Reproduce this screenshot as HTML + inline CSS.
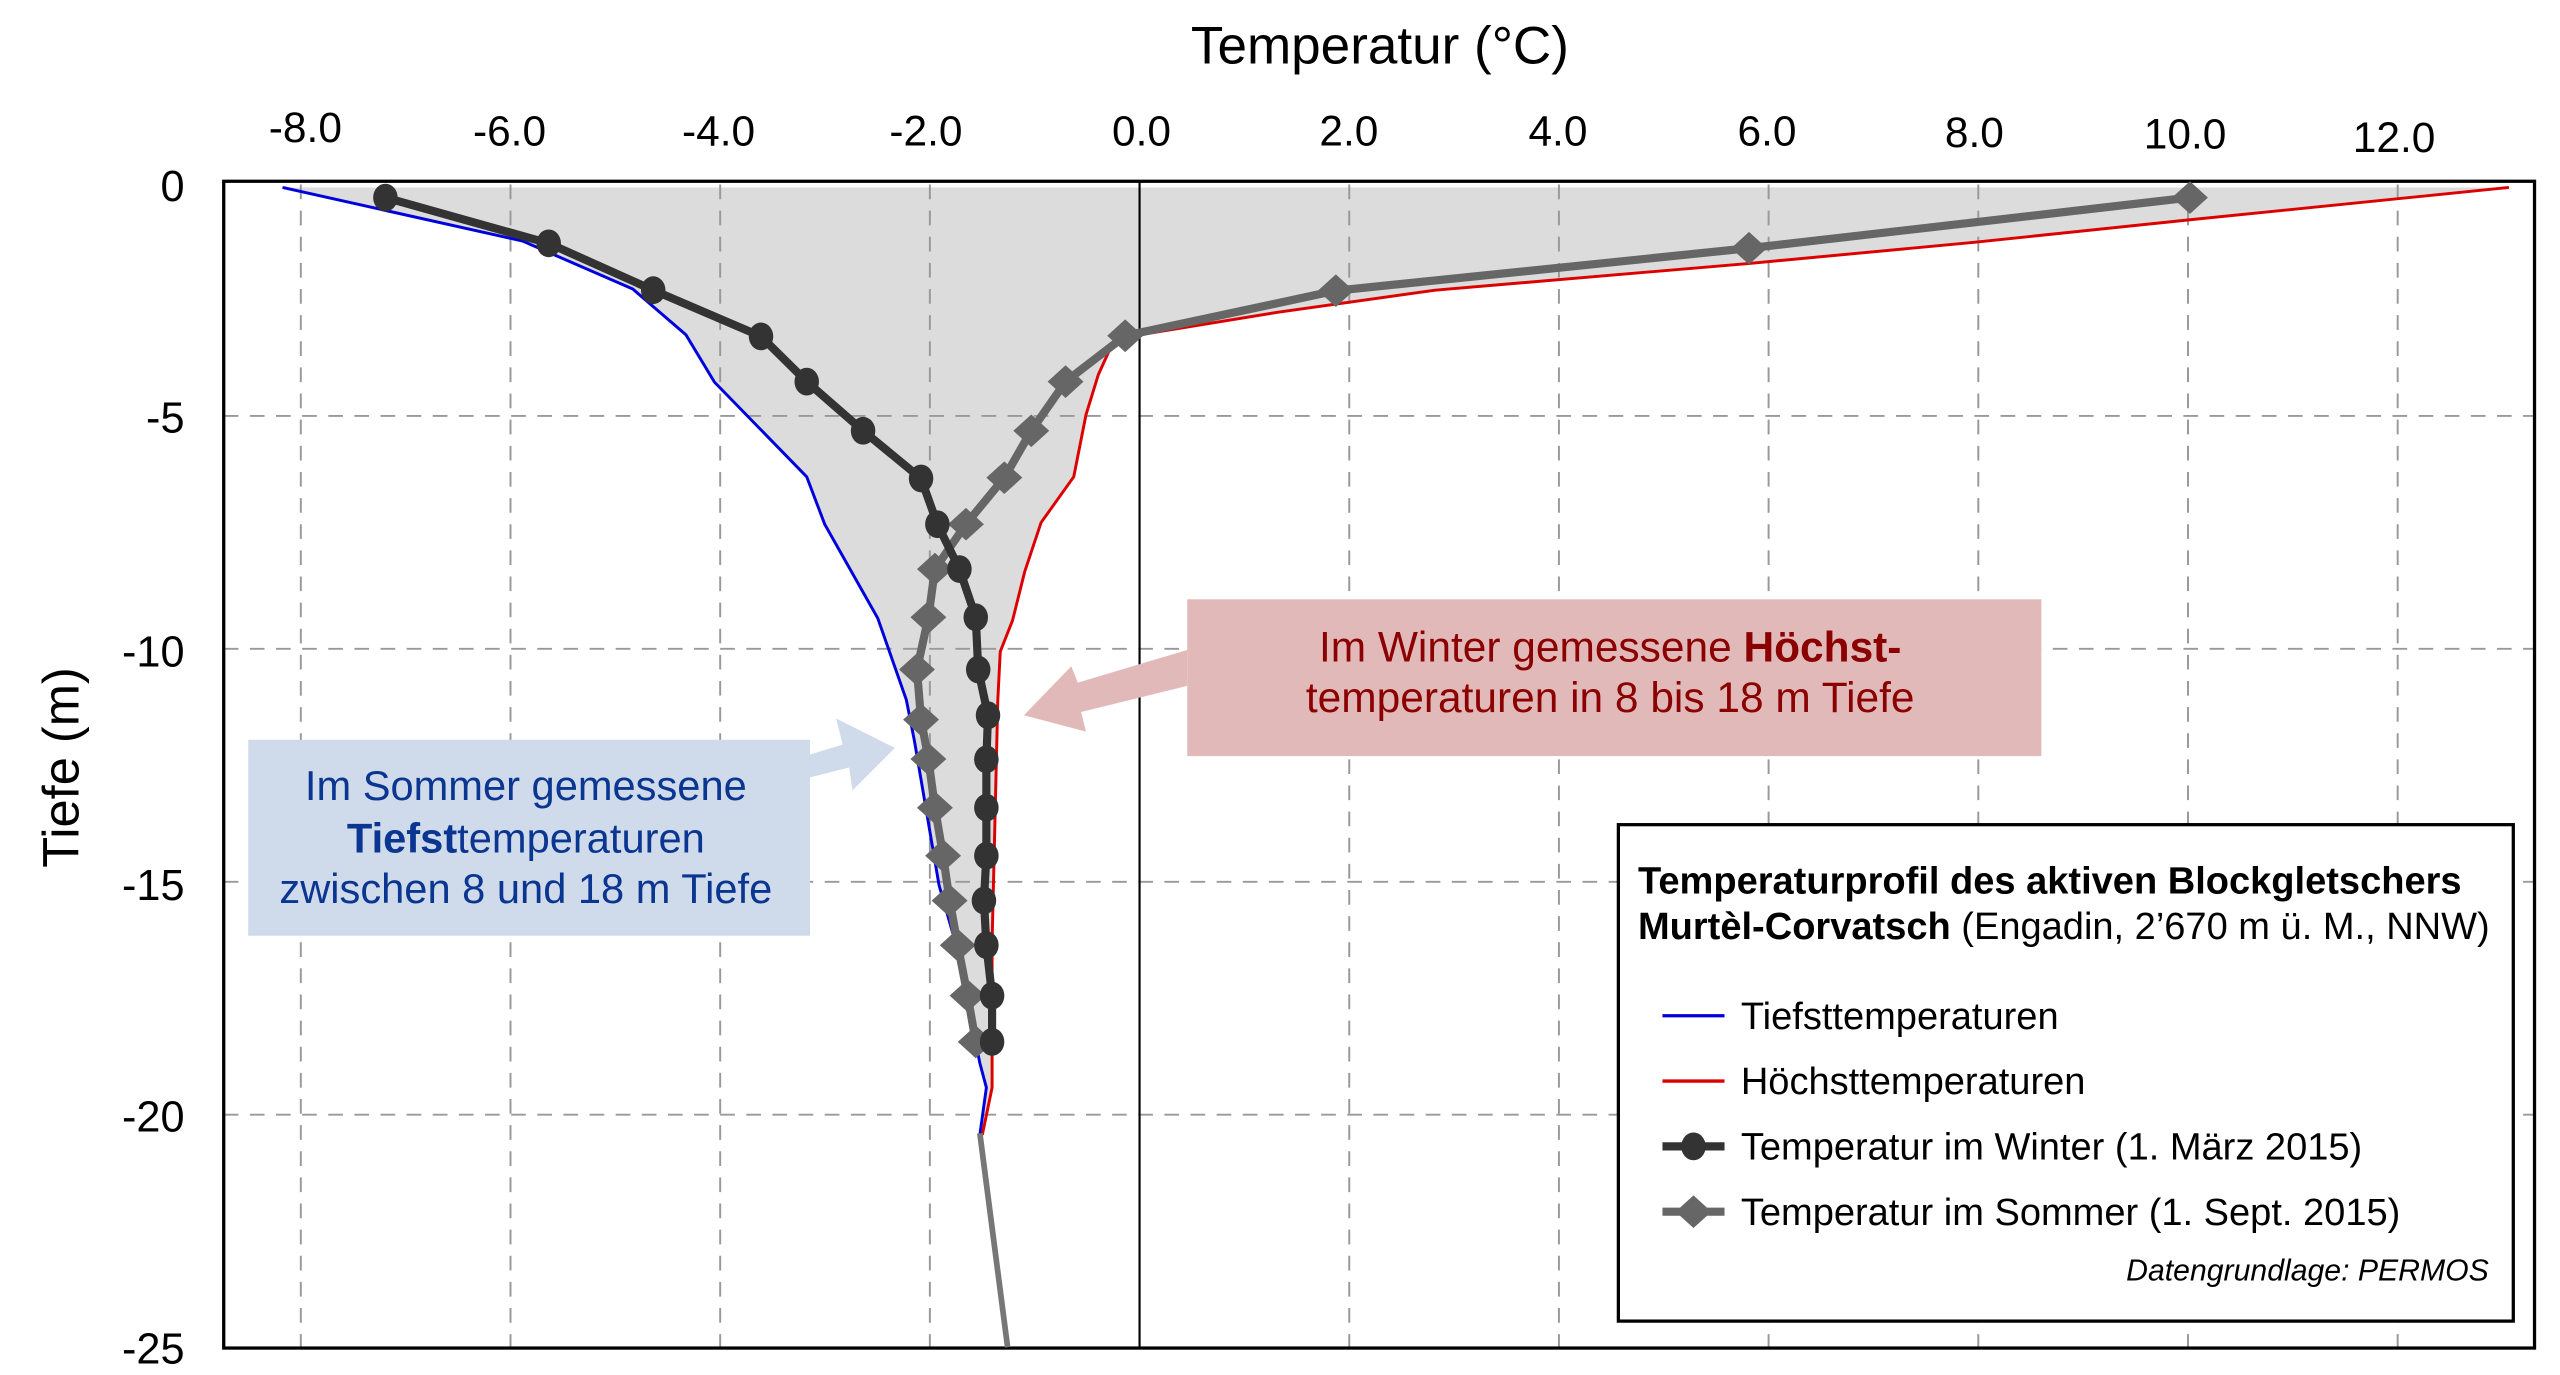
<!DOCTYPE html>
<html><head><meta charset="utf-8"><style>
html,body{margin:0;padding:0;background:#fff;}
svg{display:block;font-family:"Liberation Sans",Arial,sans-serif;}
</style></head><body>
<svg width="2560" height="1375" viewBox="0 0 1567.6 842" preserveAspectRatio="none" xmlns="http://www.w3.org/2000/svg">
<rect x="0" y="0" width="1567.6" height="842" fill="#fff"/>
<polygon fill="#dcdcdc" points="173,114.8 320,147.6 387.5,177 420,205 437.5,234 494,292 505,321 537.5,378.6 555,428.6 560,454 575,542 585,577 600,651 604,666 600,695 601.5,695 607.5,666 607.5,577 611,413 612.5,399 620,380 627.5,350 637.5,320 657.5,292 665,254 672.5,229.6 680,213 698,205 783.8,191 878.8,177.7 1071.3,161.3 1208.8,148.4 1338.8,134.8 1536.3,114.8"/>
<g stroke="#999" stroke-width="1.2" stroke-dasharray="9,7" fill="none">
<line x1="184.2" y1="113" x2="184.2" y2="825"/>
<line x1="312.6" y1="113" x2="312.6" y2="825"/>
<line x1="441" y1="113" x2="441" y2="825"/>
<line x1="569.4" y1="113" x2="569.4" y2="825"/>
<line x1="826.2" y1="113" x2="826.2" y2="825"/>
<line x1="954.6" y1="113" x2="954.6" y2="825"/>
<line x1="1083" y1="113" x2="1083" y2="825"/>
<line x1="1211.4" y1="113" x2="1211.4" y2="825"/>
<line x1="1339.8" y1="113" x2="1339.8" y2="825"/>
<line x1="1468.2" y1="113" x2="1468.2" y2="825"/>
<line x1="137" y1="254.7" x2="1552" y2="254.7"/>
<line x1="137" y1="397.3" x2="1552" y2="397.3"/>
<line x1="137" y1="540" x2="1552" y2="540"/>
<line x1="137" y1="682.6" x2="1552" y2="682.6"/>
</g>
<line x1="697.8" y1="111" x2="697.8" y2="825" stroke="#000" stroke-width="1.3"/>
<rect x="137" y="111" width="1415" height="714.5" fill="none" stroke="#000" stroke-width="2"/>
<polyline fill="none" stroke="#0000dd" stroke-width="1.8" points="173,114.8 320,147.6 387.5,177 420,205 437.5,234 494,292 505,321 537.5,378.6 555,428.6 560,454 575,542 585,577 600,651 604,666 600,695"/>
<polyline fill="none" stroke="#dd0000" stroke-width="1.8" points="1536.3,114.8 1338.8,134.8 1208.8,148.4 1071.3,161.3 878.8,177.7 783.8,191 698,205 680,213 672.5,229.6 665,254 657.5,292 637.5,320 627.5,350 620,380 612.5,399 611,428.6 607.5,577 607.5,666 601.5,695"/>
<line x1="600" y1="694" x2="617" y2="825" stroke="#777" stroke-width="3.5"/>
<g fill="#666">
<polyline fill="none" stroke="#666" stroke-width="5" stroke-linejoin="round" points="1341,121 1071,152 818,178 689,205.6 652.5,233.7 631.5,263.8 615,292.5 591.5,321 572.5,348.5 568.5,378 561.5,410 564,440.7 568.5,464.8 572.5,494.6 577.5,524 581.5,551.5 586.5,578.8 592.5,609.7 597.5,638"/>
<path d="M1341,111l11,10l-11,10l-11,-10z M1071,142l11,10l-11,10l-11,-10z M818,168l11,10l-11,10l-11,-10z M689,195.6l11,10l-11,10l-11,-10z M652.5,223.7l11,10l-11,10l-11,-10z M631.5,253.8l11,10l-11,10l-11,-10z M615,282.5l11,10l-11,10l-11,-10z M591.5,311l11,10l-11,10l-11,-10z M572.5,338.5l11,10l-11,10l-11,-10z M568.5,368l11,10l-11,10l-11,-10z M561.5,400l11,10l-11,10l-11,-10z M564,430.7l11,10l-11,10l-11,-10z M568.5,454.8l11,10l-11,10l-11,-10z M572.5,484.6l11,10l-11,10l-11,-10z M577.5,514l11,10l-11,10l-11,-10z M581.5,541.5l11,10l-11,10l-11,-10z M586.5,568.8l11,10l-11,10l-11,-10z M592.5,599.7l11,10l-11,10l-11,-10z M597.5,628l11,10l-11,10l-11,-10z"/>
</g>
<polyline fill="none" stroke="#333" stroke-width="5" stroke-linejoin="round" points="236,121 336,149 400,177.7 466,206 494,233.7 528.5,263.8 564,293 574,321 587.5,348.5 597.5,378 599,410 605,438 604,465 604,494.6 604,524 602.5,551.5 604,578.8 607.5,609.7 607.5,638"/>
<g fill="#333">
<ellipse cx="236" cy="121" rx="7.5" ry="8.5"/><ellipse cx="336" cy="149" rx="7.5" ry="8.5"/><ellipse cx="400" cy="177.7" rx="7.5" ry="8.5"/><ellipse cx="466" cy="206" rx="7.5" ry="8.5"/><ellipse cx="494" cy="233.7" rx="7.5" ry="8.5"/><ellipse cx="528.5" cy="263.8" rx="7.5" ry="8.5"/><ellipse cx="564" cy="293" rx="7.5" ry="8.5"/><ellipse cx="574" cy="321" rx="7.5" ry="8.5"/><ellipse cx="587.5" cy="348.5" rx="7.5" ry="8.5"/><ellipse cx="597.5" cy="378" rx="7.5" ry="8.5"/><ellipse cx="599" cy="410" rx="7.5" ry="8.5"/><ellipse cx="605" cy="438" rx="7.5" ry="8.5"/><ellipse cx="604" cy="465" rx="7.5" ry="8.5"/><ellipse cx="604" cy="494.6" rx="7.5" ry="8.5"/><ellipse cx="604" cy="524" rx="7.5" ry="8.5"/><ellipse cx="602.5" cy="551.5" rx="7.5" ry="8.5"/><ellipse cx="604" cy="578.8" rx="7.5" ry="8.5"/><ellipse cx="607.5" cy="609.7" rx="7.5" ry="8.5"/><ellipse cx="607.5" cy="638" rx="7.5" ry="8.5"/>
</g>
<text x="845" y="39" font-size="32.5" text-anchor="middle" fill="#000">Temperatur (°C)</text>
<g font-size="26" text-anchor="middle" fill="#000">
<text x="187" y="87">-8.0</text><text x="312" y="89">-6.0</text><text x="440" y="89">-4.0</text><text x="567" y="89">-2.0</text><text x="699" y="89">0.0</text><text x="826" y="89">2.0</text><text x="954" y="89">4.0</text><text x="1082" y="89">6.0</text><text x="1209" y="90">8.0</text><text x="1338" y="91">10.0</text><text x="1466" y="93">12.0</text>
</g>
<g font-size="26.5" text-anchor="end" fill="#000">
<text x="113" y="123">0</text><text x="113" y="265">-5</text><text x="113" y="408">-10</text><text x="113" y="551">-15</text><text x="113" y="693">-20</text><text x="113" y="835">-25</text>
</g>
<text transform="translate(48,470) rotate(-90)" font-size="31" text-anchor="middle" fill="#000">Tiefe (m)</text>
<rect x="727" y="367" width="523" height="96" fill="#e2b9b9"/>
<polygon fill="#e2b9b9" points="727,398 660,418 656,408 627,438 665,448 662,436 727,420"/>
<g font-size="26" text-anchor="middle" fill="#8b0000">
<text x="986" y="405">Im Winter gemessene <tspan font-weight="bold">Höchst-</tspan></text>
<text x="986" y="436">temperaturen in 8 bis 18 m Tiefe</text>
</g>
<rect x="152" y="453" width="344" height="120" fill="#cfdaea"/>
<polygon fill="#cfdaea" points="496,462 516,456 512,440 548,458 522,484 520,470 496,476"/>
<g font-size="25.5" text-anchor="middle" fill="#0a3590">
<text x="322" y="490">Im Sommer gemessene</text>
<text x="322" y="522"><tspan font-weight="bold">Tiefst</tspan>temperaturen</text>
<text x="322" y="553">zwischen 8 und 18 m Tiefe</text>
</g>
<rect x="991" y="505" width="548" height="304" fill="#fff" stroke="#000" stroke-width="2"/>
<g font-size="23.3" fill="#000">
<text x="1003" y="547" font-weight="bold">Temperaturprofil des aktiven Blockgletschers</text>
<text x="1003" y="575"><tspan font-weight="bold">Murtèl-Corvatsch</tspan> (Engadin, 2’670 m ü. M., NNW)</text>
<text x="1066" y="630">Tiefsttemperaturen</text>
<text x="1066" y="670">Höchsttemperaturen</text>
<text x="1066" y="710">Temperatur im Winter (1. März 2015)</text>
<text x="1066" y="750">Temperatur im Sommer (1. Sept. 2015)</text>
<text x="1524" y="784" font-size="18.5" font-style="italic" text-anchor="end">Datengrundlage: PERMOS</text>
</g>
<line x1="1018" y1="622" x2="1056" y2="622" stroke="#0000dd" stroke-width="2"/>
<line x1="1018" y1="662" x2="1056" y2="662" stroke="#dd0000" stroke-width="2"/>
<line x1="1018" y1="702" x2="1056" y2="702" stroke="#333" stroke-width="5"/>
<ellipse cx="1037" cy="702" rx="7.5" ry="8.5" fill="#333"/>
<line x1="1018" y1="742" x2="1056" y2="742" stroke="#666" stroke-width="5"/>
<path d="M1037,732l11,10l-11,10l-11,-10z" fill="#666"/>
</svg>
</body></html>
